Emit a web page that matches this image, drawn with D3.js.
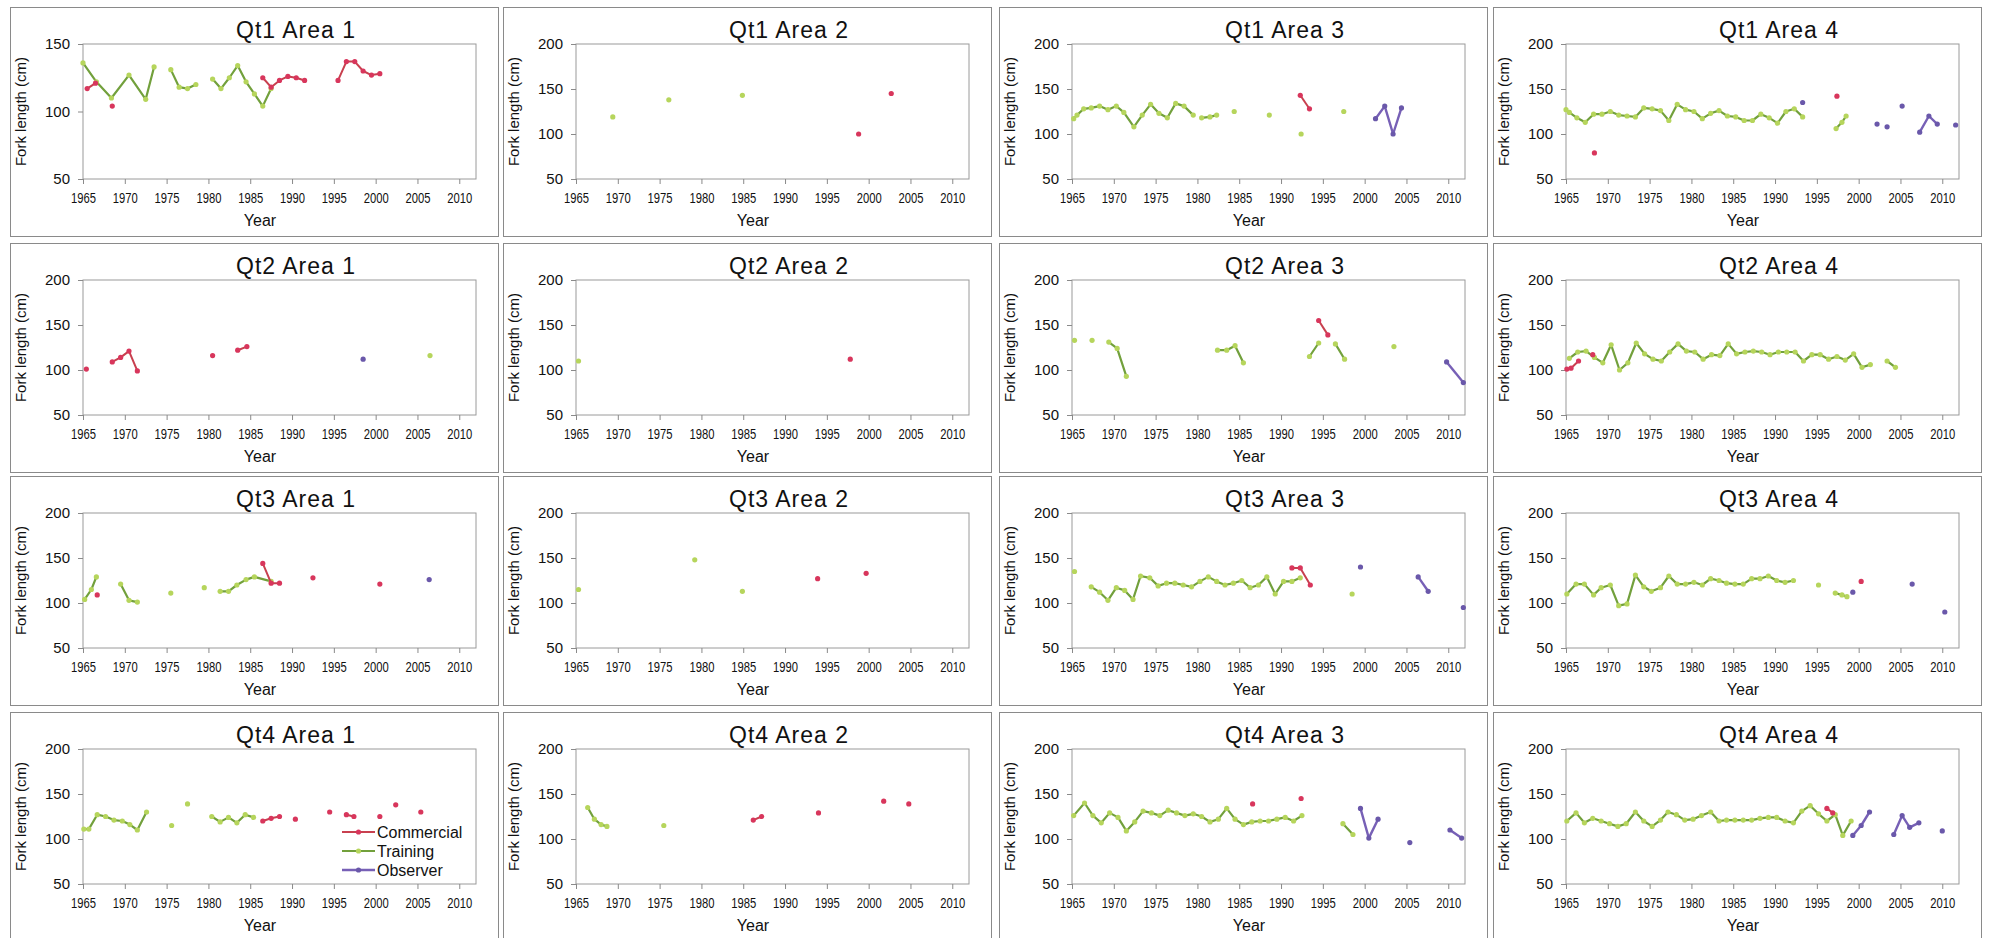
<!DOCTYPE html>
<html>
<head>
<meta charset="utf-8">
<script src="https://cdn.jsdelivr.net/npm/d3@7"></script>
<style>
  body { margin: 0; background: #fff; }
  svg { display: block; }
  text { font-family: "Liberation Sans", Arial, sans-serif; fill: #111; }
</style>
</head>
<body>
<svg id="chart" width="1993" height="938"></svg>
<script>
// x ticks and y ticks
var xTicks = [1965, 1970, 1975, 1980, 1985, 1990, 1995, 2000, 2005, 2010];
var yTicksShort = [50, 100, 150];
var yTicksTall = [50, 100, 150, 200];
var seriesNames = ["Commercial", "Training", "Observer"];

// [year, fork length]; null breaks the line
var q1a1Commercial = [[1965.5,117],[1966.5,121],null,[1968.5,104],null,[1986.5,125],[1987.5,118],[1988.5,123],[1989.5,126],[1990.5,125],[1991.5,123],null,[1995.5,123],[1996.5,137],[1997.5,137],[1998.5,130],[1999.5,127],[2000.5,128]];
var q1a1Training = [[1965,136],[1966.6,122],[1968.4,110],[1970.5,127],[1972.5,109],[1973.5,133],null,[1975.5,131],[1976.5,118],[1977.5,117],[1978.5,120],null,[1980.5,124],[1981.5,117],[1982.5,125],[1983.5,134],[1984.5,122],[1985.5,113],[1986.5,104],[1987.5,117]];
var q1a1Observer = [];

var q1a2Commercial = [[1998.8,100],null,[2002.7,145]];
var q1a2Training = [[1969.4,119],null,[1976.1,138],null,[1984.9,143]];
var q1a2Observer = [];

var q1a3Commercial = [[1992.3,143],[1993.4,128]];
var q1a3Training = [[1965.2,117],[1965.6,121],[1966.4,128],[1967.3,129],[1968.3,131],[1969.3,127],[1970.3,131],[1971.2,124],[1972.4,108],[1973.4,121],[1974.4,133],[1975.4,123],[1976.4,118],[1977.4,134],[1978.4,131],[1979.5,121],null,[1980.5,118],[1981.5,119],[1982.3,121],null,[1984.4,125],null,[1988.6,121],null,[1992.4,100],null,[1997.5,125]];
var q1a3Observer = [[2001.3,117],[2002.4,131],[2003.4,100],[2004.4,129]];

var q1a4Commercial = [[1968.4,79],null,[1997.4,142]];
var q1a4Training = [[1965,127],[1965.4,124],[1966.3,118],[1967.3,113],[1968.3,122],[1969.3,122],[1970.3,125],[1971.3,121],[1972.3,120],[1973.3,119],[1974.3,129],[1975.3,128],[1976.3,126],[1977.3,115],[1978.3,133],[1979.3,127],[1980.3,125],[1981.3,117],[1982.3,123],[1983.3,126],[1984.3,120],[1985.3,119],[1986.3,115],[1987.3,115],[1988.3,122],[1989.3,118],[1990.3,112],[1991.3,125],[1992.3,128],[1993.3,119],null,[1997.3,106],[1998,113],[1998.5,120]];
var q1a4Observer = [[1993.3,135],null,[2002.2,111],null,[2003.4,108],null,[2005.2,131],null,[2007.3,102],[2008.4,120],[2009.4,111],null,[2011.6,110]];

var q2a1Commercial = [[1965.4,101],null,[1968.5,109],[1969.5,114],[1970.5,121],[1971.5,99],null,[1980.5,116],null,[1983.5,122],[1984.6,126]];
var q2a1Training = [[2006.5,116]];
var q2a1Observer = [[1998.5,112]];

var q2a2Commercial = [[1997.8,112]];
var q2a2Training = [[1965.3,110]];
var q2a2Observer = [];

var q2a3Commercial = [[1994.5,155],[1995.6,139]];
var q2a3Training = [[1965.3,133],null,[1967.4,133],null,[1969.4,131],[1970.4,124],[1971.5,93],null,[1982.4,122],[1983.5,122],[1984.5,127],[1985.5,108],null,[1993.4,115],[1994.5,130],null,[1996.5,129],[1997.6,112],null,[2003.5,126]];
var q2a3Observer = [[2009.8,109],[2011.8,86]];

var q2a4Commercial = [[1965.1,101],[1965.6,102],[1966.5,110],null,[1968.2,117]];
var q2a4Training = [[1965.4,113],[1966.4,120],[1967.4,121],[1968.4,114],[1969.4,108],[1970.4,128],[1971.4,100],[1972.4,108],[1973.4,130],[1974.4,118],[1975.4,112],[1976.4,110],[1977.4,120],[1978.4,129],[1979.4,121],[1980.4,120],[1981.4,112],[1982.4,117],[1983.4,116],[1984.4,129],[1985.4,118],[1986.4,120],[1987.4,121],[1988.4,120],[1989.4,117],[1990.4,120],[1991.4,120],[1992.4,120],[1993.4,110],[1994.4,117],[1995.4,117],[1996.4,112],[1997.4,115],[1998.4,111],[1999.4,118],[2000.4,103],[2001.4,106],null,[2003.4,110],[2004.4,103]];
var q2a4Observer = [];

var q3a1Commercial = [[1966.7,109],null,[1986.5,144],[1987.5,122],[1988.5,122],null,[1992.5,128],null,[2000.5,121]];
var q3a1Training = [[1965.2,104],[1966,115],[1966.6,129],null,[1969.5,121],[1970.5,103],[1971.5,101],null,[1975.5,111],null,[1979.5,117],null,[1981.4,113],[1982.4,113],[1983.4,120],[1984.5,126],[1985.5,129],[1987.5,124]];
var q3a1Observer = [[2006.4,126]];

var q3a2Commercial = [[1993.9,127],null,[1999.7,133]];
var q3a2Training = [[1965.3,115],null,[1979.2,148],null,[1984.9,113]];
var q3a2Observer = [];

var q3a3Commercial = [[1991.3,139],[1992.3,139],[1993.5,120]];
var q3a3Training = [[1965.3,135],null,[1967.3,118],[1968.3,112],[1969.3,103],[1970.3,117],[1971.3,114],[1972.3,104],[1973.2,130],[1974.3,128],[1975.3,119],[1976.3,122],[1977.3,122],[1978.3,120],[1979.3,118],[1980.3,124],[1981.3,129],[1982.3,124],[1983.3,120],[1984.3,122],[1985.3,125],[1986.3,117],[1987.3,120],[1988.3,129],[1989.3,110],[1990.3,124],[1991.3,124],[1992.3,128],null,[1998.5,110]];
var q3a3Observer = [[1999.5,140],null,[2006.4,129],[2007.6,113],null,[2011.8,95]];

var q3a4Commercial = [[2000.3,124]];
var q3a4Training = [[1965.1,110],[1966.2,121],[1967.2,121],[1968.3,109],[1969.2,117],[1970.3,120],[1971.3,97],[1972.3,99],[1973.3,131],[1974.3,118],[1975.2,113],[1976.3,117],[1977.3,130],[1978.3,121],[1979.3,121],[1980.3,123],[1981.3,120],[1982.3,127],[1983.3,125],[1984.2,122],[1985.2,121],[1986.2,121],[1987.2,127],[1988.2,127],[1989.2,130],[1990.2,125],[1991.2,123],[1992.2,125],null,[1995.2,120],null,[1997.2,111],[1998,109],[1998.6,107]];
var q3a4Observer = [[1999.3,112],null,[2006.4,121],null,[2010.3,90]];

var q4a1Commercial = [[1986.5,120],[1987.5,123],[1988.5,125],null,[1990.4,122],null,[1994.5,130],null,[1996.5,127],[1997.4,125],null,[2000.5,125],null,[2002.4,138],null,[2005.4,130]];
var q4a1Training = [[1965.1,111],[1965.7,111],[1966.7,127],[1967.7,125],[1968.7,121],[1969.7,120],[1970.6,116],[1971.5,110],[1972.6,130],null,[1975.6,115],null,[1977.5,139],null,[1980.4,125],[1981.4,119],[1982.4,124],[1983.4,118],[1984.4,127],[1985.4,124]];
var q4a1Observer = [];

var q4a2Commercial = [[1986.2,121],[1987.2,125],null,[1994,129],null,[2001.8,142],null,[2004.8,139]];
var q4a2Training = [[1966.4,135],[1967.2,122],[1968,116],[1968.7,114],null,[1975.5,115]];
var q4a2Observer = [];

var q4a3Commercial = [[1986.6,139],null,[1992.4,145]];
var q4a3Training = [[1965.2,126],[1966.5,140],[1967.5,126],[1968.5,118],[1969.5,129],[1970.5,124],[1971.5,109],[1972.5,119],[1973.5,131],[1974.5,129],[1975.5,126],[1976.5,132],[1977.5,129],[1978.5,126],[1979.5,128],[1980.5,125],[1981.5,119],[1982.5,122],[1983.5,134],[1984.5,122],[1985.5,116],[1986.5,119],[1987.5,120],[1988.5,120],[1989.5,122],[1990.5,124],[1991.5,120],[1992.5,126],null,[1997.4,117],[1998.6,105]];
var q4a3Observer = [[1999.5,134],[2000.5,101],[2001.6,122],null,[2005.4,96],null,[2010.2,110],[2011.6,101]];

var q4a4Commercial = [[1996.2,134],[1996.9,129]];
var q4a4Training = [[1965.1,120],[1966.2,129],[1967.2,118],[1968.2,123],[1969.2,120],[1970.2,117],[1971.2,114],[1972.2,117],[1973.3,130],[1974.3,120],[1975.3,114],[1976.3,121],[1977.2,130],[1978.2,127],[1979.2,121],[1980.2,122],[1981.2,126],[1982.3,130],[1983.3,120],[1984.2,121],[1985.2,121],[1986.2,121],[1987.2,121],[1988.2,123],[1989.2,124],[1990.2,124],[1991.2,120],[1992.2,118],[1993.2,131],[1994.2,137],[1995.2,128],[1996.2,120],[1997.2,127],[1998.1,104],[1999.1,120]];
var q4a4Observer = [[1999.3,104],[2000.3,115],[2001.3,130],null,[2004.2,105],[2005.2,126],[2006.1,113],[2007.2,118],null,[2010,109]];

var panels = [
  { title: "Qt1 Area 1", yTicks: yTicksShort, commercial: q1a1Commercial, training: q1a1Training, observer: q1a1Observer },
  { title: "Qt1 Area 2", yTicks: yTicksTall, commercial: q1a2Commercial, training: q1a2Training, observer: q1a2Observer },
  { title: "Qt1 Area 3", yTicks: yTicksTall, commercial: q1a3Commercial, training: q1a3Training, observer: q1a3Observer },
  { title: "Qt1 Area 4", yTicks: yTicksTall, commercial: q1a4Commercial, training: q1a4Training, observer: q1a4Observer },
  { title: "Qt2 Area 1", yTicks: yTicksTall, commercial: q2a1Commercial, training: q2a1Training, observer: q2a1Observer },
  { title: "Qt2 Area 2", yTicks: yTicksTall, commercial: q2a2Commercial, training: q2a2Training, observer: q2a2Observer },
  { title: "Qt2 Area 3", yTicks: yTicksTall, commercial: q2a3Commercial, training: q2a3Training, observer: q2a3Observer },
  { title: "Qt2 Area 4", yTicks: yTicksTall, commercial: q2a4Commercial, training: q2a4Training, observer: q2a4Observer },
  { title: "Qt3 Area 1", yTicks: yTicksTall, commercial: q3a1Commercial, training: q3a1Training, observer: q3a1Observer },
  { title: "Qt3 Area 2", yTicks: yTicksTall, commercial: q3a2Commercial, training: q3a2Training, observer: q3a2Observer },
  { title: "Qt3 Area 3", yTicks: yTicksTall, commercial: q3a3Commercial, training: q3a3Training, observer: q3a3Observer },
  { title: "Qt3 Area 4", yTicks: yTicksTall, commercial: q3a4Commercial, training: q3a4Training, observer: q3a4Observer },
  { title: "Qt4 Area 1", yTicks: yTicksTall, commercial: q4a1Commercial, training: q4a1Training, observer: q4a1Observer, legend: true },
  { title: "Qt4 Area 2", yTicks: yTicksTall, commercial: q4a2Commercial, training: q4a2Training, observer: q4a2Observer },
  { title: "Qt4 Area 3", yTicks: yTicksTall, commercial: q4a3Commercial, training: q4a3Training, observer: q4a3Observer },
  { title: "Qt4 Area 4", yTicks: yTicksTall, commercial: q4a4Commercial, training: q4a4Training, observer: q4a4Observer }
];

var styles = {
  Commercial: { line: "#c8404f", dot: "#d8365c", width: 2 },
  Training:   { line: "#72a03c", dot: "#b6d55c", width: 2.2 },
  Observer:   { line: "#7760b6", dot: "#6a58aa", width: 2.4 }
};

var colX = [10, 503, 999, 1493];
var rowY = [7, 243, 476, 712];
var panelW = 488, panelH = 229;
var m = { left: 73, right: 466, top: 37, bottom: 172 };

var svg = d3.select("#chart");

panels.forEach(function(p, i) {
  var g = svg.append("g")
      .attr("transform", "translate(" + colX[i % 4] + "," + rowY[Math.floor(i / 4)] + ")");

  g.append("rect")
      .attr("x", 0.5).attr("y", 0.5)
      .attr("width", panelW).attr("height", panelH)
      .attr("fill", "#fff")
      .attr("stroke", "#8a8a8a");

  var x = d3.scaleLinear().domain([1965, 2012]).range([m.left, m.right]);
  var y = d3.scaleLinear().domain([50, d3.max(p.yTicks)]).range([m.bottom, m.top]);

  g.append("rect")
      .attr("x", m.left).attr("y", m.top)
      .attr("width", m.right - m.left).attr("height", m.bottom - m.top)
      .attr("fill", "none")
      .attr("stroke", "#9a9a9a");

  var xAxis = g.append("g")
      .attr("transform", "translate(0," + m.bottom + ")")
      .call(d3.axisBottom(x).tickValues(xTicks).tickSize(5).tickPadding(8).tickFormat(d3.format("d")));
  xAxis.select(".domain").remove();
  xAxis.selectAll("line").attr("stroke", "#8a8a8a");
  xAxis.selectAll("text")
      .attr("font-size", 15)
      .attr("textLength", 25)
      .attr("lengthAdjust", "spacingAndGlyphs")
      .attr("fill", "#111");

  var yAxis = g.append("g")
      .attr("transform", "translate(" + m.left + ",0)")
      .call(d3.axisLeft(y).tickValues(p.yTicks).tickSize(5).tickPadding(8));
  yAxis.select(".domain").remove();
  yAxis.selectAll("line").attr("stroke", "#8a8a8a");
  yAxis.selectAll("text").attr("font-size", 15).attr("fill", "#111");

  g.append("text")
      .attr("x", 286).attr("y", 31)
      .attr("text-anchor", "middle")
      .attr("font-size", 23)
      .attr("letter-spacing", 1)
      .text(p.title);

  g.append("text")
      .attr("x", 250).attr("y", 219)
      .attr("text-anchor", "middle")
      .attr("font-size", 16)
      .text("Year");

  g.append("text")
      .attr("transform", "translate(16," + ((m.top + m.bottom) / 2) + ") rotate(-90)")
      .attr("text-anchor", "middle")
      .attr("font-size", 15)
      .text("Fork length (cm)");

  var line = d3.line()
      .defined(function(d) { return d !== null; })
      .x(function(d) { return x(d[0]); })
      .y(function(d) { return y(d[1]); });

  [["Training", p.training], ["Commercial", p.commercial], ["Observer", p.observer]].forEach(function(s) {
    var st = styles[s[0]];
    g.append("path")
        .datum(s[1])
        .attr("fill", "none")
        .attr("stroke", st.line)
        .attr("stroke-width", st.width)
        .attr("stroke-linejoin", "round")
        .attr("d", line);
    g.selectAll(null)
        .data(s[1].filter(function(d) { return d !== null; }))
      .enter().append("circle")
        .attr("cx", function(d) { return x(d[0]); })
        .attr("cy", function(d) { return y(d[1]); })
        .attr("r", 2.6)
        .attr("fill", st.dot);
  });

  if (p.legend) {
    var lg = g.append("g").attr("transform", "translate(332,120)");
    seriesNames.forEach(function(name, k) {
      var st = styles[name];
      var row = lg.append("g").attr("transform", "translate(0," + (k * 19) + ")");
      row.append("line")
          .attr("x1", 0).attr("x2", 33)
          .attr("stroke", st.line).attr("stroke-width", st.width);
      row.append("circle").attr("cx", 16.5).attr("r", 2.6).attr("fill", st.dot);
      row.append("text")
          .attr("x", 35).attr("dy", "0.35em")
          .attr("font-size", 16)
          .text(name);
    });
  }
});
</script>
</body>
</html>
